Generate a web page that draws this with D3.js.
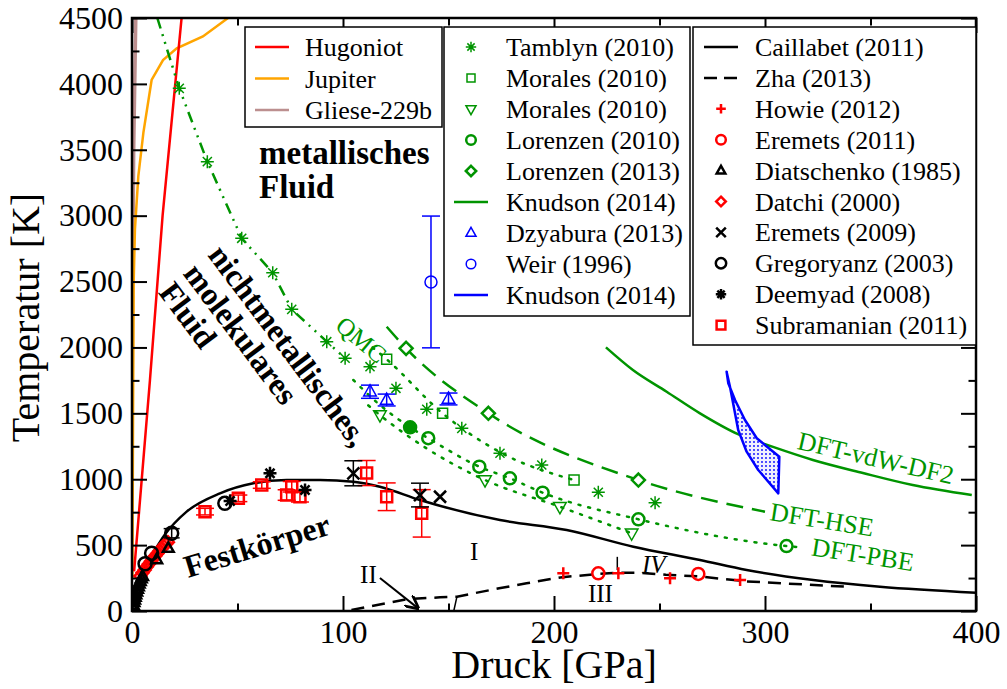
<!DOCTYPE html>
<html lang='en'>
<head>
<meta charset='UTF-8'>
<title>Phasendiagramm Wasserstoff</title>
<style>
body { margin: 0; background: #fff; }
</style>
</head>
<body>
<svg></svg>
<script src='https://d3js.org/d3.v7.min.js'></script>
<script>
// all points are [pressure GPa, temperature K] (error bars: [P, T, dT])
const xTicks = [0, 100, 200, 300, 400]
const xMinor = [50, 150, 250, 350]
const yTicks = [0, 500, 1000, 1500, 2000, 2500, 3000, 3500, 4000, 4500]
const yMinor = [250, 750, 1250, 1750, 2250, 2750, 3250, 3750, 4250]

const hugoniot = [[1, 300], [8.5, 1750], [14.5, 3000], [23.5, 4500]]
const jupiter = [[0.2, 250], [0.5, 1500], [0.8, 2500], [1.4, 2900], [3, 3300], [5.4, 3630], [9.3, 4030], [14.7, 4180], [21.2, 4270], [33.6, 4360], [45.5, 4500]]
const gliese = [[0.05, 1500], [0.3, 2500], [0.8, 3500], [1.8, 4500]]

const tamblynLine = [[12, 4500], [22.4, 3966], [35.7, 3410], [52, 2828], [66.7, 2567], [75.7, 2289], [92.3, 2044], [101, 1918]]
const tamblyn = [[22.4, 3966], [35.7, 3410], [52, 2828], [66.7, 2567], [75.7, 2289], [92.3, 2044], [101, 1918],
  [112.8, 1854], [125.1, 1690], [139.7, 1531], [156.3, 1386], [174.4, 1197], [194.2, 1108], [221, 901], [247.9, 822]]
const moralesSq = [[120.7, 1910], [147.2, 1500], [209.5, 994]]
const moralesSqLine = [[114, 2000], [120.7, 1910], [147.2, 1500], [175, 1200], [209.5, 994]]
const moralesTri = [[117.5, 1487], [167.3, 994], [202.8, 791], [236.8, 590]]
const moralesTriLine = [[112, 1560], [117.5, 1487], [140, 1230], [167.3, 994], [202.8, 791], [236.8, 590]]
const lorenzen10 = [[140.4, 1311], [164.6, 1095], [179.1, 1007], [194.6, 898], [240, 696], [310.2, 493]]
const lorenzen10Filled = [[131.8, 1394]]
const pbeLine = [[104.9, 1753], [117, 1570], [131.8, 1394], [140.4, 1311], [164.6, 1095], [179.1, 1007], [194.6, 898], [240, 696], [310.2, 493], [318, 482]]
const lorenzen13 = [[129.9, 1993], [168.9, 1500], [240, 994]]
const hseLine = [[120.7, 2157], [129.9, 1993], [168.9, 1500], [240, 994], [300, 753]]
const knudsonGreen = [[224.6, 2001], [237.4, 1829], [253.4, 1664], [269, 1502], [288, 1336], [303.8, 1245], [322.7, 1146], [346.4, 1047], [370, 956], [398, 880]]
const dzyabura = [[112.8, 1664, 50], [120.7, 1601, 45], [150, 1609, 45]]
const weir = [[141.7, 2497, 500]]
const knudsonBlue = [[281.8, 1816], [283.4, 1702], [287.3, 1373], [291.3, 1209], [296.8, 1070], [306.3, 893], [306.8, 1171], [296.1, 1311], [290.5, 1449], [285.8, 1601], [282.6, 1728]]

const caillabet = [[0, 14], [1, 90], [2, 150], [4, 250], [7, 360], [10, 440], [15.6, 580], [25.9, 754], [41.7, 893], [57.5, 969], [73.3, 994], [89.1, 994], [104.9, 981], [117.5, 943], [136.5, 842], [174.4, 690], [206, 615], [237.6, 488], [269.2, 387], [291.3, 311], [322.9, 235], [354.5, 184], [400, 139]]
const zha = [[104, 8], [130, 89], [146, 104], [154, 109], [174, 172], [187, 210], [203, 255], [220, 280], [230, 290], [241, 290], [253, 275], [269, 262], [291, 225], [339, 184]]
const boundary23 = [[152.5, 0], [154, 109]]
const boundary34 = [[230, 311], [230, 411]]
const howie = [[204.4, 286], [230.5, 286], [255, 248], [288.2, 235]]
const eremets11 = [[221, 286], [268.4, 281]]
const diatschenko = [[0.3, 25], [0.6, 45], [0.9, 65], [1.2, 85], [1.5, 105], [1.8, 125], [2.2, 145], [2.6, 165], [3, 185], [3.4, 205], [3.9, 225], [4.4, 245], [5, 262], [11.7, 390], [17.2, 476]]
const datchi = [[4, 265], [5, 290], [6, 312], [7, 335], [8, 357], [9, 378], [10, 398], [11, 418], [12, 437], [13, 456], [14, 474], [15, 492], [16, 508], [17, 522]]
const eremets09 = [[104.9, 1045, 95], [136.5, 880, 90], [146, 867, 0]]
const gregoryanz = [[6.2, 358, 0], [9.3, 438, 0], [18.8, 590, 35], [44, 817, 0]]
const deemyad = [[46.5, 835], [65.4, 1045], [82, 918]]
const subramanian = [[34.6, 754, 25], [50.4, 855, 25], [61.5, 956, 25], [73.3, 880, 40], [75.7, 943, 40], [79.6, 867, 40], [111.2, 1047, 95], [120.7, 867, 105], [137.3, 741, 180]]

const legend1Labels = ['Hugoniot', 'Jupiter', 'Gliese-229b']
const legend2Labels = ['Tamblyn (2010)', 'Morales (2010)', 'Morales (2010)', 'Lorenzen (2010)', 'Lorenzen (2013)', 'Knudson (2014)', 'Dzyabura (2013)', 'Weir (1996)', 'Knudson (2014)']
const legend3Labels = ['Caillabet (2011)', 'Zha (2013)', 'Howie (2012)', 'Eremets (2011)', 'Diatschenko (1985)', 'Datchi (2000)', 'Eremets (2009)', 'Gregoryanz (2003)', 'Deemyad (2008)', 'Subramanian (2011)']

const W = 1007, H = 689
const G = '#009400', R = '#ff0000', B = '#0000ff', K = '#000000', O = '#ffa500', BR = '#bc8f8f'
const FONT = 'Liberation Serif'

const x = d3.scaleLinear().domain([0, 400]).range([132, 976])
const y = d3.scaleLinear().domain([0, 4500]).range([611, 18])

const svg = d3.select('svg').attr('width', W).attr('height', H).attr('font-family', FONT)
const defs = svg.append('defs')
defs.append('clipPath').attr('id', 'clip').append('rect')
  .attr('x', x(0)).attr('y', y(4500)).attr('width', x(400) - x(0)).attr('height', y(0) - y(4500))
const pat = defs.append('pattern').attr('id', 'dots')
  .attr('width', 4).attr('height', 4).attr('patternUnits', 'userSpaceOnUse')
pat.append('rect').attr('width', 4).attr('height', 4).attr('fill', '#f0f0ff')
pat.append('circle').attr('cx', 2).attr('cy', 2).attr('r', 0.9).attr('fill', B)
defs.append('marker').attr('id', 'arrow').attr('viewBox', '0 0 10 10').attr('refX', 9).attr('refY', 5)
  .attr('markerWidth', 7).attr('markerHeight', 7).attr('orient', 'auto')
  .append('path').attr('d', 'M0,0L10,5L0,10').attr('fill', 'none').attr('stroke', K).attr('stroke-width', 2)

const plot = svg.append('g').attr('clip-path', 'url(#clip)')

function curve(data, color, width, dash, smooth) {
  const line = d3.line().x(d => x(d[0])).y(d => y(d[1]))
    .curve(smooth ? d3.curveMonotoneX : d3.curveLinear)
  return plot.append('path').datum(data)
    .attr('fill', 'none').attr('stroke', color).attr('stroke-width', width)
    .attr('stroke-dasharray', dash || null)
    .attr('stroke-linecap', dash && dash.startsWith('2') ? 'round' : 'butt')
    .attr('d', line)
}

function shape(kind, s) {
  const a = s * 0.7
  switch (kind) {
    case 'circle': return `M${s},0A${s},${s} 0 1,1 ${-s},0A${s},${s} 0 1,1 ${s},0Z`
    case 'square': return `M${-s},${-s}H${s}V${s}H${-s}Z`
    case 'diamond': return `M0,${-s}L${s},0L0,${s}L${-s},0Z`
    case 'up': return `M0,${-s}L${s * 0.9},${s * 0.6}L${-s * 0.9},${s * 0.6}Z`
    case 'down': return `M0,${s}L${s * 0.9},${-s * 0.6}L${-s * 0.9},${-s * 0.6}Z`
    case 'plus': return `M${-s},0H${s}M0,${-s}V${s}`
    case 'times': return `M${-s},${-s}L${s},${s}M${-s},${s}L${s},${-s}`
    case 'star': return `M${-s},0H${s}M0,${-s}V${s}M${-a},${-a}L${a},${a}M${-a},${a}L${a},${-a}`
  }
}

const marks = {
  tamblyn: { kind: 'star', s: 6.5, color: G, w: 1.5 },
  moralesSq: { kind: 'square', s: 5, color: G, w: 1.5 },
  moralesTri: { kind: 'down', s: 7, color: G, w: 1.5 },
  lorenzen10: { kind: 'circle', s: 6, color: G, w: 2.5 },
  lorenzen13: { kind: 'diamond', s: 6.5, color: G, w: 2.5 },
  dzyabura: { kind: 'up', s: 7, color: B, w: 1.5 },
  weir: { kind: 'circle', s: 6, color: B, w: 1.5 },
  howie: { kind: 'plus', s: 6, color: R, w: 2.5 },
  eremets11: { kind: 'circle', s: 6, color: R, w: 2.5 },
  diatschenko: { kind: 'up', s: 6, color: K, w: 2.5 },
  datchi: { kind: 'diamond', s: 6, color: R, w: 2.5 },
  eremets09: { kind: 'times', s: 6, color: K, w: 2.5 },
  gregoryanz: { kind: 'circle', s: 6.5, color: K, w: 2.5 },
  deemyad: { kind: 'star', s: 6.5, color: K, w: 2.5 },
  subramanian: { kind: 'square', s: 5.5, color: R, w: 2.5 }
}

function points(data, key, fill) {
  const m = marks[key]
  plot.append('g').selectAll('path').data(data).join('path')
    .attr('transform', d => `translate(${x(d[0])},${y(d[1])})`)
    .attr('d', shape(m.kind, m.s))
    .attr('fill', fill || 'none').attr('stroke', m.color).attr('stroke-width', m.w)
}

function errorbars(data, color, width, cap) {
  const g = plot.append('g').attr('stroke', color).attr('stroke-width', width)
  data.filter(d => d[2] > 0).forEach(d => {
    const px = x(d[0]), lo = y(d[1] - d[2]), hi = y(d[1] + d[2])
    g.append('line').attr('x1', px).attr('x2', px).attr('y1', lo).attr('y2', hi)
    g.append('line').attr('x1', px - cap).attr('x2', px + cap).attr('y1', lo).attr('y2', lo)
    g.append('line').attr('x1', px - cap).attr('x2', px + cap).attr('y1', hi).attr('y2', hi)
  })
}

// curves
curve(gliese, BR, 3.5)
curve(jupiter, O, 2.5)
curve(hugoniot, R, 2.5)
curve(tamblynLine, G, 2.5, '11,6,2,6,2,6')
curve(moralesSqLine, G, 2.5, '2,8', true)
curve(moralesTriLine, G, 2.5, '2,8', true)
curve(pbeLine, G, 2.5, '2,8', true)
curve(hseLine, G, 2.5, '17,9', true)
curve(knudsonGreen, G, 2.5, null, true)
plot.append('path').datum(knudsonBlue)
  .attr('d', d3.line().x(d => x(d[0])).y(d => y(d[1])).curve(d3.curveLinearClosed))
  .attr('fill', 'url(#dots)').attr('stroke', B).attr('stroke-width', 2.5).attr('stroke-linejoin', 'round')
curve(caillabet, K, 2.5, null, true)
curve(zha, K, 2.5, '13,8')
curve(boundary23, K, 1.5)
curve(boundary34, K, 1.5)

// markers
errorbars(weir, B, 1.5, 9)
points(weir, 'weir')
errorbars(dzyabura, B, 1.5, 9)
points(dzyabura, 'dzyabura')
points(tamblyn, 'tamblyn')
points(moralesSq, 'moralesSq')
points(moralesTri, 'moralesTri')
points(lorenzen10, 'lorenzen10')
points(lorenzen10Filled, 'lorenzen10', G)
points(lorenzen13, 'lorenzen13', '#fff')
points(datchi, 'datchi')
points(diatschenko, 'diatschenko')
errorbars(subramanian, R, 1.5, 9)
points(subramanian, 'subramanian')
errorbars(gregoryanz, K, 1.5, 8)
points(gregoryanz, 'gregoryanz')
errorbars(eremets09, K, 1.5, 9)
points(eremets09, 'eremets09')
points(deemyad, 'deemyad')
points(howie, 'howie')
points(eremets11, 'eremets11')

// axes
function ticks(axis, size, vals, labels) {
  const g = svg.append('g').call(axis.tickValues(vals).tickSize(-size).tickSizeOuter(0).tickPadding(9)
    .tickFormat(labels ? d3.format('d') : ''))
  g.attr('font-family', FONT)
  g.select('.domain').remove()
  g.selectAll('line').attr('stroke-width', 2)
  g.selectAll('text').attr('font-size', 32).attr('fill', K)
  return g
}
ticks(d3.axisBottom(x), 15, xTicks, true).attr('transform', `translate(0,${y(0)})`)
ticks(d3.axisBottom(x), 7.5, xMinor).attr('transform', `translate(0,${y(0)})`)
ticks(d3.axisTop(x), 15, xTicks).attr('transform', `translate(0,${y(4500)})`)
ticks(d3.axisTop(x), 7.5, xMinor).attr('transform', `translate(0,${y(4500)})`)
ticks(d3.axisLeft(y), 15, yTicks, true).attr('transform', `translate(${x(0)},0)`)
ticks(d3.axisLeft(y), 7.5, yMinor).attr('transform', `translate(${x(0)},0)`)
ticks(d3.axisRight(y), 15, yTicks).attr('transform', `translate(${x(400)},0)`)
ticks(d3.axisRight(y), 7.5, yMinor).attr('transform', `translate(${x(400)},0)`)

svg.append('rect').attr('x', x(0)).attr('y', y(4500))
  .attr('width', x(400) - x(0)).attr('height', y(0) - y(4500))
  .attr('fill', 'none').attr('stroke', K).attr('stroke-width', 2.5)

svg.append('text').attr('x', (x(0) + x(400)) / 2).attr('y', 678)
  .attr('text-anchor', 'middle').attr('font-size', 40).text('Druck [GPa]')
svg.append('text').attr('transform', `translate(39,${(y(0) + y(4500)) / 2 + 3}) rotate(-90)`)
  .attr('text-anchor', 'middle').attr('font-size', 40).text('Temperatur [K]')

// annotations
function label(p, t, str, opts) {
  const o = Object.assign({ size: 26, angle: 0, color: K, weight: 'normal', style: 'normal' }, opts)
  svg.append('text').attr('transform', `translate(${x(p)},${y(t)}) rotate(${o.angle})`)
    .attr('font-size', o.size).attr('font-weight', o.weight).attr('font-style', o.style)
    .attr('fill', o.color).text(str)
}
label(60.2, 3392, 'metallisches', { size: 33, weight: 'bold' })
label(60.2, 3134, 'Fluid', { size: 33, weight: 'bold' })
const nm = svg.append('g').attr('transform', `translate(${x(35.5)},${y(2700)}) rotate(53)`)
  .attr('font-size', 32).attr('font-weight', 'bold')
nm.append('text').attr('y', 0).text('nichtmetallisches,')
nm.append('text').attr('y', 31).text('molekulares')
nm.append('text').attr('y', 62).text('Fluid')
label(26.5, 250, 'Festkörper', { size: 32, weight: 'bold', angle: -17 })
label(95.7, 2148, 'QMC', { color: G, angle: 40, size: 25 })
label(314.8, 1232, 'DFT-vdW-DF2', { color: G, angle: 13 })
label(301.9, 690, 'DFT-HSE', { color: G, angle: 9 })
label(321.6, 424, 'DFT-PBE', { color: G, angle: 9 })
label(108.1, 212, 'II', { size: 25 })
label(160.2, 387, 'I', { size: 25 })
label(216.1, 68, 'III', { size: 25 })
label(241.7, 288, 'IV', { style: 'italic', size: 25 })
svg.append('line').attr('x1', x(117.5)).attr('y1', y(250)).attr('x2', x(135.5)).attr('y2', y(22))
  .attr('stroke', K).attr('stroke-width', 2).attr('marker-end', 'url(#arrow)')

// legends
const lineKeys = {
  hugoniot: { color: R }, jupiter: { color: O }, gliese: { color: BR },
  knudsonG: { color: G }, knudsonB: { color: B },
  caillabet: { color: K }, zha: { color: K, dash: '13,7' }
}
function legend(x0, y0, w, h, labels, keys, symX, textX, step) {
  const g = svg.append('g')
  g.append('rect').attr('x', x0).attr('y', y0).attr('width', w).attr('height', h)
    .attr('fill', '#fff').attr('stroke', K).attr('stroke-width', 1.5)
  labels.forEach((lab, i) => {
    const cy = y0 + 20 + i * step, k = keys[i]
    if (lineKeys[k]) {
      g.append('line').attr('x1', symX - 17).attr('x2', symX + 17).attr('y1', cy).attr('y2', cy)
        .attr('stroke', lineKeys[k].color).attr('stroke-width', 2.5)
        .attr('stroke-dasharray', lineKeys[k].dash || null)
    } else {
      const m = marks[k]
      g.append('path').attr('transform', `translate(${symX},${cy})`).attr('d', shape(m.kind, m.s * 0.8))
        .attr('fill', 'none').attr('stroke', m.color).attr('stroke-width', m.w)
    }
    g.append('text').attr('x', textX).attr('y', cy + 9).attr('font-size', 26).text(lab)
  })
}
legend(245, 27, 197, 100, legend1Labels, ['hugoniot', 'jupiter', 'gliese'], 272, 305, 31.5)
legend(444, 27, 246, 289, legend2Labels,
  ['tamblyn', 'moralesSq', 'moralesTri', 'lorenzen10', 'lorenzen13', 'knudsonG', 'dzyabura', 'weir', 'knudsonB'], 471, 506, 31)
legend(693, 27, 283, 318, legend3Labels,
  ['caillabet', 'zha', 'howie', 'eremets11', 'diatschenko', 'datchi', 'eremets09', 'gregoryanz', 'deemyad', 'subramanian'], 721, 755, 30.9)
</script>
</body>
</html>
